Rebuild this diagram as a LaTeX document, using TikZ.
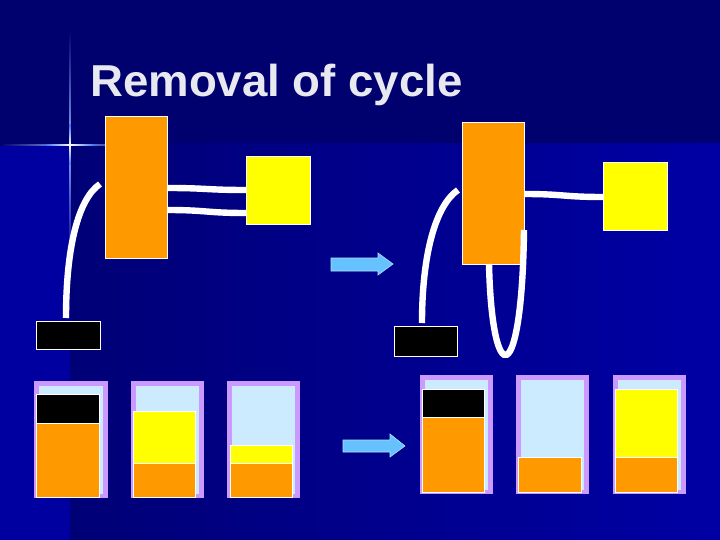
\documentclass[tikz,border=0pt]{standalone}
\usepackage{fontspec}
\newfontfamily\titlefont{Liberation Sans}
\usetikzlibrary{calc}
\definecolor{bgtop}{HTML}{00006E}
\definecolor{bgleft}{HTML}{0000A0}
\definecolor{bgmid}{HTML}{000076}
\definecolor{bgright}{HTML}{0000A4}
\definecolor{orng}{HTML}{FF9900}
\definecolor{yel}{HTML}{FFFF00}
\definecolor{lav}{HTML}{CC99FF}
\definecolor{pale}{HTML}{CCEBFF}
\definecolor{arr}{HTML}{66C2FF}
\definecolor{glint}{HTML}{3A70F0}
\definecolor{titlec}{HTML}{E8E8F0}
\begin{document}
\begin{tikzpicture}[x=1pt,y=-1pt,
  blk/.style={draw=white, line width=0.8pt, inner sep=0pt, outer sep=0pt, anchor=north west},
  wire/.style={white, line width=6.4pt},
  frame/.style={fill=lav, inner sep=0pt, outer sep=0pt, anchor=north west},
  glass/.style={fill=pale, inner sep=0pt, outer sep=0pt, anchor=north west},
  bigarrow/.style={fill=arr, draw=arr!50!white, line width=0.6pt, line join=miter}]
\useasboundingbox (0,0) rectangle (720,540);
% background
\fill[bgtop] (0,0) rectangle (720,540);
\shade[left color=bgmid, right color=bgright] (70,144) rectangle (720,540);
\fill[bgleft] (0,144) rectangle (70,540);
% glint
\shade[top color=bgtop, bottom color=bgleft, middle color=glint!60!white] (69.2,30) rectangle (70.8,260);
\shade[left color=bgtop, right color=bgtop, middle color=glint!60!white] (0,144.2) rectangle (140,145.8);
\shade[top color=glint, bottom color=glint, middle color=white] (69.4,125) rectangle (70.6,165);
\shade[left color=glint, right color=glint, middle color=white] (45,144.4) rectangle (95,145.6);
% title
\node[anchor=base west, inner sep=0pt, text=titlec, font=\titlefont\bfseries\fontsize{44.7}{50}\selectfont] (title) at (90,97) {\scalebox{1.02}[1]{Removal of cycle}};
% left diagram
\node[blk, fill=orng, minimum width=62, minimum height=142] (o1) at (105,116) {};
\node[blk, fill=yel, minimum width=64, minimum height=68] (y1) at (246,156) {};
\node[blk, fill=black, minimum width=64, minimum height=28] (k1) at (36,321) {};
\draw[wire] ($(o1.north east)+(0,72)$) .. controls +(40,0) and +(-40,0) .. ($(y1.north west)+(0,34)$);
\draw[wire] ($(o1.north east)+(0,94)$) .. controls +(40,0) and +(-40,0) .. ($(y1.north west)+(0,57)$);
\draw[wire] ($(k1.north west)+(30,-3)$) .. controls +(0,-70) and +(-22,15) .. ($(o1.north west)+(-5,68)$);
% right diagram
\node[blk, fill=orng, minimum width=62, minimum height=142] (o2) at (462,122) {};
\node[blk, fill=yel, minimum width=64, minimum height=68] (y2) at (603,162) {};
\node[blk, fill=black, minimum width=63, minimum height=30] (k2) at (394,326) {};
\draw[wire] ($(o2.north east)+(0,72)$) .. controls +(40,0) and +(-40,0) .. ($(y2.north west)+(0,35)$);
\draw[wire] ($(k2.north west)+(28,-3)$) .. controls +(0,-70) and +(-22,15) .. ($(o2.north west)+(-4,68)$);
\draw[wire] ($(o2.north east)+(0,108)$) .. controls +(-2,160) and +(3,127) .. ($(o2.south east)+(-35,0)$);
% arrows
\draw[bigarrow] (331,258) -- (378,258) -- (378,253) -- (393,264) -- (378,275) -- (378,271) -- (331,271) -- cycle;
\draw[bigarrow] (343,440) -- (390,440) -- (390,434) -- (405,446) -- (390,457) -- (390,452) -- (343,452) -- cycle;
% containers, before
\node[frame, minimum width=74, minimum height=117] (f1) at (34,381) {};
\node[glass, minimum width=64, minimum height=108] (g1) at (39,386) {};
\node[blk, fill=black, minimum width=63, minimum height=29] (f1a) at (36,394) {};
\node[blk, fill=orng, minimum width=63, minimum height=74] (f1b) at (36,423) {};
\node[frame, minimum width=73, minimum height=117] (f2) at (131,381) {};
\node[glass, minimum width=63, minimum height=108] (g2) at (136,386) {};
\node[blk, fill=yel, minimum width=62, minimum height=52] (f2a) at (133,411) {};
\node[blk, fill=orng, minimum width=62, minimum height=34] (f2b) at (133,463) {};
\node[frame, minimum width=73, minimum height=117] (f3) at (227,381) {};
\node[glass, minimum width=63, minimum height=108] (g3) at (232,386) {};
\node[blk, fill=yel, minimum width=62, minimum height=18] (f3a) at (230,445) {};
\node[blk, fill=orng, minimum width=62, minimum height=34] (f3b) at (230,463) {};
% containers, after
\node[frame, minimum width=73, minimum height=119] (f4) at (420,375) {};
\node[glass, minimum width=63, minimum height=110] (g4) at (425,380) {};
\node[blk, fill=black, minimum width=62, minimum height=28] (f4a) at (422,389) {};
\node[blk, fill=orng, minimum width=62, minimum height=75] (f4b) at (422,417) {};
\node[frame, minimum width=73, minimum height=119] (f5) at (516,375) {};
\node[glass, minimum width=63, minimum height=110] (g5) at (521,380) {};
\node[blk, fill=orng, minimum width=63, minimum height=35] (f5b) at (518,457) {};
\node[frame, minimum width=73, minimum height=119] (f6) at (613,375) {};
\node[glass, minimum width=63, minimum height=110] (g6) at (618,380) {};
\node[blk, fill=yel, minimum width=62, minimum height=68] (f6a) at (615,389) {};
\node[blk, fill=orng, minimum width=62, minimum height=35] (f6b) at (615,457) {};
\end{tikzpicture}
\end{document}
